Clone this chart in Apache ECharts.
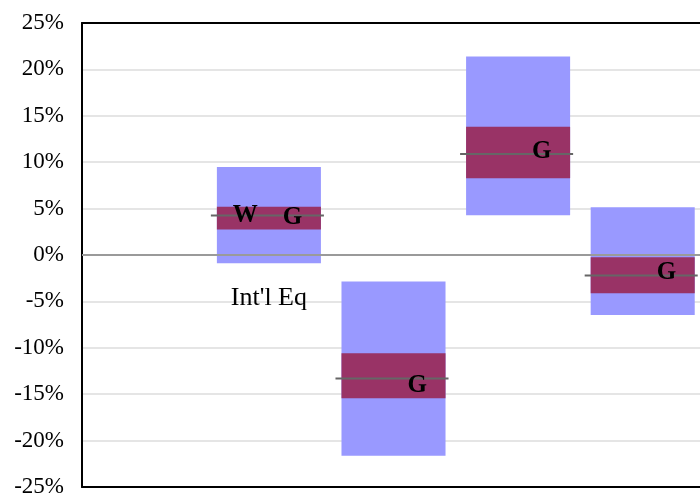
<!DOCTYPE html>
<html>
<head>
<meta charset="utf-8">
<script src="https://cdn.jsdelivr.net/npm/echarts@6/dist/echarts.min.js"></script>
<style>html,body{margin:0;padding:0;background:#fff}#c{width:700px;height:494px}</style>
</head>
<body>
<div id="c"></div>
<script>
// Categories (index 0 is an empty slot)
const categories = ['', 'Int\'l Eq', 'B', 'C', 'D'];
// Range values per box (in %)
const lowVals  = [null, -0.88, -21.63, 4.28, -6.47];
const q1Vals   = [null, 2.74, -15.43, 8.26, -4.11];
const medVals  = [null, 4.25, -13.31, 10.88, -2.2];
const q3Vals   = [null, 5.2, -10.59, 13.82, -0.24];
const highVals = [null, 9.48, -2.85, 21.38, 5.14];
// Marker letters
const gVals = [null, 4.03, -14.03, 11.18, -1.94];
const wVals = [null, 4.30, null, null, null];
// Annotation
const annotText = "Int'l Eq";
const annotCat = 1;
const annotVal = -4.62;
// Y tick settings
const yMin = -25, yMax = 25, yStep = 5;

const boxData = [];
for (let i = 0; i < categories.length; i++) {
  if (lowVals[i] == null) continue;
  boxData.push([i, lowVals[i], q1Vals[i], medVals[i], q3Vals[i], highVals[i]]);
}
const markData = [];
for (let i = 0; i < categories.length; i++) {
  if (gVals[i] != null) markData.push([i, gVals[i], 'G', 1]);
  if (wVals[i] != null) markData.push([i, wVals[i], 'W', -1]);
}

const serif = '"Liberation Serif", "Times New Roman", serif';
const chart = echarts.init(document.getElementById('c'), null, {renderer: 'canvas'});
const xBase = {
  type: 'category', data: categories,
  axisTick: {show: false}, axisLabel: {show: false}, splitLine: {show: false}
};
chart.setOption({
  animation: false,
  backgroundColor: '#fff',
  grid: {left: 82, top: 23, right: -5, bottom: 7, containLabel: false, outerBoundsMode: 'none'},
  xAxis: [
    Object.assign({}, xBase, {position: 'bottom', axisLine: {onZero: false, lineStyle: {color: '#000', width: 2}}}),
    Object.assign({}, xBase, {position: 'top', axisLine: {onZero: false, lineStyle: {color: '#000', width: 2}}})
  ],
  yAxis: {
    type: 'value', min: yMin, max: yMax, interval: yStep,
    axisLine: {show: true, lineStyle: {color: '#000', width: 2}},
    axisTick: {show: false},
    axisLabel: {formatter: '{value}%', fontFamily: serif, fontSize: 23, color: '#000', margin: 18},
    splitLine: {show: true, lineStyle: {color: '#e5e5e5', width: 2}}
  },
  series: [
    {
      type: 'custom',
      data: boxData,
      encode: {x: 0, y: [1, 5]},
      renderItem: function (params, api) {
        const x = api.value(0);
        const band = api.size([1, 0])[0];
        const w = band * 0.835;
        const pLow = api.coord([x, api.value(1)]);
        const pQ1 = api.coord([x, api.value(2)]);
        const pMed = api.coord([x, api.value(3)]);
        const pQ3 = api.coord([x, api.value(4)]);
        const pHigh = api.coord([x, api.value(5)]);
        const cx = pLow[0];
        return {
          type: 'group',
          children: [
            {type: 'rect', shape: {x: cx - w / 2, y: pHigh[1], width: w, height: pLow[1] - pHigh[1]}, style: {fill: '#9999ff'}},
            {type: 'rect', shape: {x: cx - w / 2, y: pQ3[1], width: w, height: pQ1[1] - pQ3[1]}, style: {fill: '#993366'}},
            {type: 'line', shape: {x1: cx - w / 2 - 6, y1: pMed[1], x2: cx + w / 2 + 3, y2: pMed[1]}, style: {stroke: '#666', lineWidth: 2}}
          ]
        };
      },
      markLine: {
        silent: true, symbol: 'none', label: {show: false},
        lineStyle: {color: '#9a9a9a', width: 2, type: 'solid'},
        data: [{yAxis: 0}]
      },
      z: 3
    },
    {
      type: 'custom',
      data: markData,
      encode: {x: 0, y: 1},
      renderItem: function (params, api) {
        const p = api.coord([api.value(0), api.value(1)]);
        const band = api.size([1, 0])[0];
        const dir = markData[params.dataIndex][3];
        return {
          type: 'text',
          x: p[0] + dir * band * 0.19, y: p[1],
          style: {text: markData[params.dataIndex][2], fontFamily: serif, fontWeight: 'bold', fontSize: 25, fill: '#000', align: 'center', verticalAlign: 'middle'}
        };
      },
      z: 4
    },
    {
      type: 'custom',
      data: [[annotCat, annotVal]],
      encode: {x: 0, y: 1},
      renderItem: function (params, api) {
        const p = api.coord([api.value(0), api.value(1)]);
        return {
          type: 'text', x: p[0], y: p[1],
          style: {text: annotText, fontFamily: serif, fontSize: 26, fill: '#000', align: 'center', verticalAlign: 'middle'}
        };
      },
      z: 4
    }
  ]
});
</script>
</body>
</html>
